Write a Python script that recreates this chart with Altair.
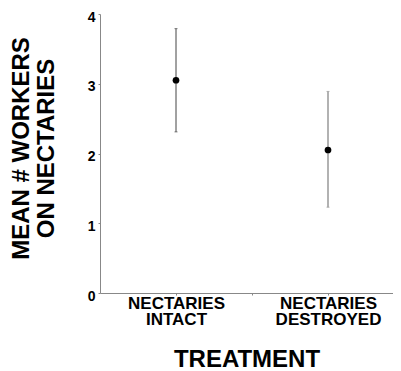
import altair as alt
import pandas as pd

categories = ["NECTARIES INTACT", "NECTARIES DESTROYED"]
label_lines = [["NECTARIES", "INTACT"], ["NECTARIES", "DESTROYED"]]
positions = [1, 3]
means = [3.05, 2.05]
lower = [2.31, 1.23]
upper = [3.79, 2.89]
bar_colors = ["#444444", "#999999"]
bar_widths = [1.0, 1.5]

df = pd.DataFrame({
    "treatment": categories,
    "pos": positions,
    "mean": means,
    "lo": lower,
    "hi": upper,
})

parts = []
for p, lines in zip(positions, label_lines):
    arr = "[" + ",".join("'" + s + "'" for s in lines) + "]"
    parts.append(f"datum.value == {p} ? {arr} : ")
x_label_expr = "".join(parts) + "''"

FONT = "Liberation Sans"
PLOT_W = 293
UNIT = 76.0

x = alt.X(
    "pos:Q",
    scale=alt.Scale(domain=[0, PLOT_W / UNIT], nice=False, zero=False),
    axis=alt.Axis(
        title="TREATMENT",
        values=[1, 2, 3],
        labelExpr=x_label_expr,
        grid=False,
        tickSize=2,
        labelPadding=0,
        labelFont=FONT,
        labelFontSize=17,
        labelFontWeight="bold",
        labelLineHeight=16,
        labelColor="black",
        labelFlush=False,
        labelOverlap=False,
        titleFont=FONT,
        titleFontSize=24,
        titleFontWeight="bold",
        titleColor="black",
        titleBaseline="alphabetic",
        titleY=73,
        domainColor="#888888",
        tickColor="#888888",
    ),
)
y_axis = alt.Axis(
    title=["MEAN # WORKERS", "ON NECTARIES"],
    values=[0, 0.5, 1, 1.5, 2, 2.5, 3, 3.5, 4],
    labelExpr="datum.value % 1 == 0 ? format(datum.value, 'd') : ''",
    grid=False,
    tickSize=2,
    labelPadding=3,
    labelOffset=3,
    labelFont=FONT,
    labelFontSize=14,
    labelFontWeight="bold",
    labelColor="black",
    labelFlush=False,
    titleFont=FONT,
    titleFontSize=24,
    titleFontWeight="bold",
    titleColor="black",
    titleLineHeight=25,
    titleX=-67,
    titleY=134,
    domainColor="#888888",
    tickColor="#888888",
)
yscale = alt.Scale(domain=[0, 4], nice=False)

base = alt.Chart(df)
color = alt.Color("treatment:N", scale=alt.Scale(domain=categories, range=bar_colors), legend=None)
sw = alt.StrokeWidth("treatment:N", scale=alt.Scale(domain=categories, range=bar_widths), legend=None)

rules = base.mark_rule().encode(
    x=x,
    y=alt.Y("lo:Q", scale=yscale, axis=y_axis),
    y2="hi:Q",
    color=color,
    strokeWidth=sw,
)
cap_lo = base.mark_tick(orient="horizontal", size=3, thickness=1).encode(
    x="pos:Q", y="lo:Q", color=color
)
cap_hi = base.mark_tick(orient="horizontal", size=3, thickness=1).encode(
    x="pos:Q", y="hi:Q", color=color
)
points = base.mark_circle(size=45, color="black", opacity=1).encode(
    x="pos:Q", y="mean:Q"
)

chart = (
    alt.layer(rules, cap_lo, cap_hi, points)
    .properties(
        width=PLOT_W,
        height=279,
        autosize=alt.AutoSizeParams(type="none"),
        padding={"left": 92, "top": 6, "right": 0, "bottom": 80},
    )
    .configure_view(stroke=None)
)

chart.save("out.html", embed_options={"renderer": "svg", "actions": False})
